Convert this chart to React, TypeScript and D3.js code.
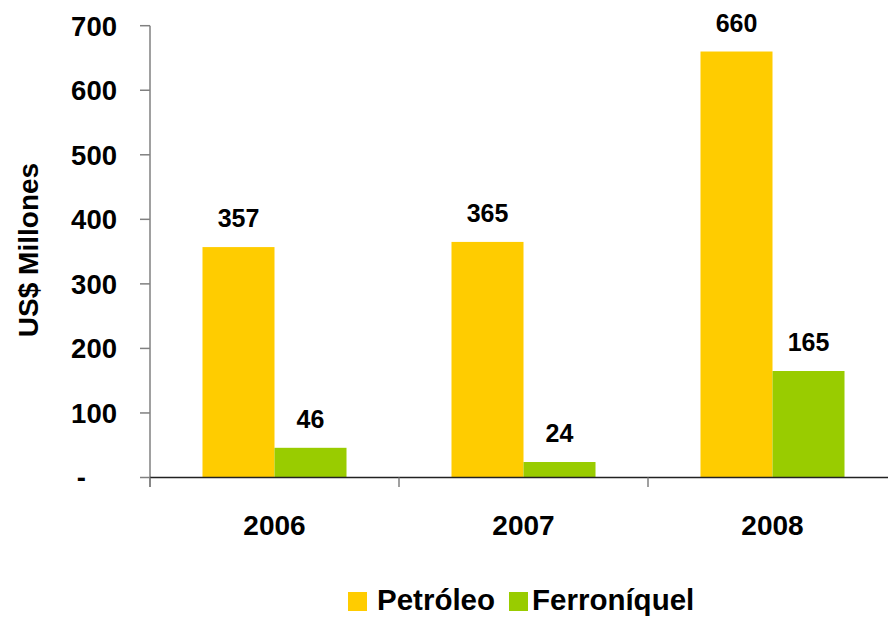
import React from "react";
import * as d3 from "d3";

const years = ["2006", "2007", "2008"];
const series = ["Petróleo", "Ferroníquel"];
const petroleo = [357, 365, 660];
const ferroniquel = [46, 24, 165];
const yTicks = [0, 100, 200, 300, 400, 500, 600, 700];
const colors = ["#FFCC00", "#99CC00"];

const W = 888;
const H = 617;
const FONT = "'Liberation Sans', Arial, Helvetica, sans-serif";

export default function App() {
  const y = d3.scaleLinear().domain([0, 700]).range([477.5, 25.7]);
  const x0 = d3.scaleBand().domain(years).range([150, 897]).padding(0);
  const x1 = d3
    .scaleBand()
    .domain(series)
    .range([0, x0.step()])
    .paddingInner(0)
    .paddingOuter(0.729);
  const values = [petroleo, ferroniquel];
  const fmt = (v: number) => (v === 0 ? "-" : d3.format("d")(v));
  const xTickPositions = [...years.map((d) => x0(d) as number), 897];

  const legendX = [348, 509];
  const legendTextX = [29, 23];

  return (
    <svg
      width={W}
      height={H}
      style={{ position: "absolute", left: 0, top: 0, background: "#fff" }}
      fontFamily={FONT}
      fontWeight="bold"
    >
      {/* bars */}
      {series.map((s, si) =>
        years.map((yr, i) => {
          const v = values[si][i];
          const bx = (x0(yr) as number) + (x1(s) as number);
          return (
            <g key={s + yr}>
              <rect
                x={bx}
                y={y(v)}
                width={x1.bandwidth()}
                height={y(0) - y(v)}
                fill={colors[si]}
              />
              <text
                x={bx + x1.bandwidth() / 2}
                y={y(v) - 20}
                textAnchor="middle"
                fontSize={25}
                fill="#000"
              >
                {fmt(v)}
              </text>
            </g>
          );
        })
      )}

      {/* y axis */}
      <line x1={150} x2={150} y1={y(700)} y2={487} stroke="#808080" strokeWidth={1.5} />
      {yTicks.map((t) => (
        <g key={t}>
          <line x1={140} x2={150} y1={y(t)} y2={y(t)} stroke="#808080" strokeWidth={1.5} />
          <text
            x={t === 0 ? 86 : 117}
            y={y(t)}
            dy="0.36em"
            textAnchor="end"
            fontSize={27.5}
            fill="#000"
          >
            {fmt(t)}
          </text>
        </g>
      ))}

      {/* x axis */}
      <line x1={150} x2={W} y1={y(0)} y2={y(0)} stroke="#222" strokeWidth={1.5} />
      {xTickPositions.map((p, i) => (
        <line key={i} x1={p} x2={p} y1={y(0)} y2={487} stroke="#808080" strokeWidth={1.5} />
      ))}
      {years.map((yr) => (
        <text
          key={yr}
          x={(x0(yr) as number) + x0.bandwidth() / 2}
          y={535}
          textAnchor="middle"
          fontSize={28}
          fill="#000"
        >
          {yr}
        </text>
      ))}

      {/* y title */}
      <text
        transform={`translate(38,250) rotate(-90)`}
        textAnchor="middle"
        fontSize={28}
        fill="#000"
      >
        US$ Millones
      </text>

      {/* legend */}
      {series.map((s, si) => (
        <g key={s} transform={`translate(${legendX[si]},0)`}>
          <rect x={0} y={592} width={19} height={19} fill={colors[si]} />
          <text x={legendTextX[si]} y={609.5} fontSize={29.5} fill="#000">
            {s}
          </text>
        </g>
      ))}
    </svg>
  );
}
